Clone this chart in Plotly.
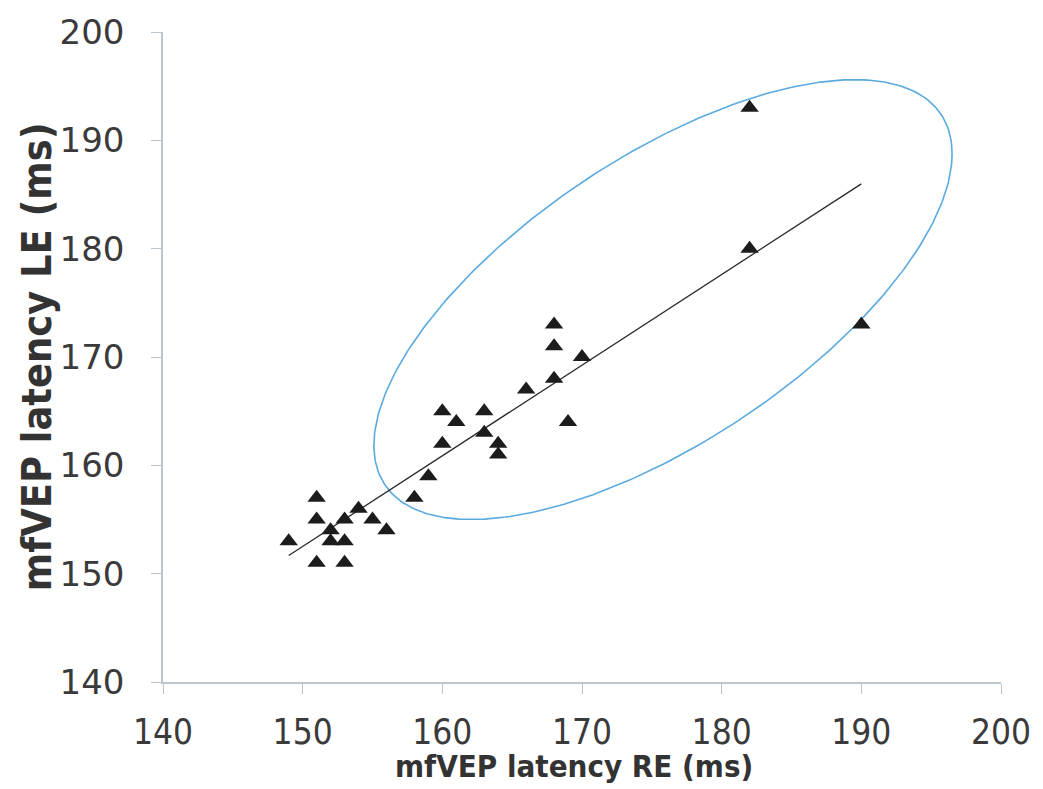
import numpy as np
import plotly.graph_objects as go

# Data
re_latency = [149, 151, 151, 151, 152, 152, 153, 153, 153, 154, 155, 156, 158, 159,
              160, 161, 160, 163, 163, 164, 164, 166, 168, 169, 168, 168, 170,
              182, 182, 190]
le_latency = [153, 157, 155, 151, 154, 153, 155, 153, 151, 156, 155, 154, 157, 159,
              165, 164, 162, 165, 163, 162, 161, 167, 168, 164, 173, 171, 170,
              193, 180, 173]

tick_vals = [140, 150, 160, 170, 180, 190, 200]
tick_text = ["140", "150", "160", "170", "180", "190", "200"]

# Ellipse annotation (data units): centre, half extents, phase (deg)
ell_center = [175.8, 175.3]
ell_half = [20.7, 20.3]
ell_phase = [48.5]

# linear regression trend line
slope, intercept = np.polyfit(re_latency, le_latency, 1)
trend_x = np.array([min(re_latency), max(re_latency)])
trend_y = slope * trend_x + intercept

t = np.linspace(0, 2 * np.pi, 361)
ell_x = ell_center[0] + ell_half[0] * np.cos(t)
ell_y = ell_center[1] + ell_half[1] * np.cos(t - np.deg2rad(ell_phase[0]))

fig = go.Figure()
fig.add_trace(go.Scatter(x=ell_x, y=ell_y, mode="lines",
                         line=dict(color="#5aaae0", width=1.6),
                         hoverinfo="skip", showlegend=False))
fig.add_trace(go.Scatter(x=trend_x, y=trend_y, mode="lines",
                         line=dict(color="#2a2a2a", width=1.3),
                         showlegend=False))
fig.add_trace(go.Scatter(x=re_latency, y=le_latency, mode="markers",
                         marker=dict(symbol="triangle-up", size=16, color="#1c1c1c",
                                     line=dict(width=0)),
                         showlegend=False))

axis_common = dict(range=[140, 200], tickmode="array", tickvals=tick_vals,
                   ticktext=tick_text, showgrid=False, zeroline=False,
                   showline=True, linecolor="#bcc5cb", linewidth=1.5,
                   ticks="outside", tickcolor="#bcc5cb", ticklen=10, tickwidth=1.2)

narrow = "Liberation Sans Narrow, DejaVu Sans Condensed, Liberation Sans, Arial"

fig.update_xaxes(**axis_common,
                 tickfont=dict(family=narrow, size=35, color="#3a3a3a"),
                 ticklabelstandoff=8)
fig.update_yaxes(**axis_common,
                 tickfont=dict(family="DejaVu Sans, Verdana", size=34, color="#3a3a3a"),
                 ticklabelstandoff=20)

fig.add_annotation(text="mfVEP latency RE (ms)", xref="paper", yref="paper",
                   x=0.49, y=-0.13, yanchor="middle", xanchor="center", showarrow=False,
                   font=dict(family=narrow, size=31, color="#333333", weight="bold"))
fig.add_annotation(text="mfVEP latency LE (ms)", xref="paper", yref="paper",
                   x=-0.15, y=0.5, xanchor="center", yanchor="middle", textangle=-90,
                   showarrow=False,
                   font=dict(family=narrow, size=41, color="#333333", weight="bold"))

fig.update_layout(width=1043, height=789, plot_bgcolor="white", paper_bgcolor="white",
                  margin=dict(l=163, r=40, t=25, b=107), showlegend=False)

fig.write_html("out.html")
